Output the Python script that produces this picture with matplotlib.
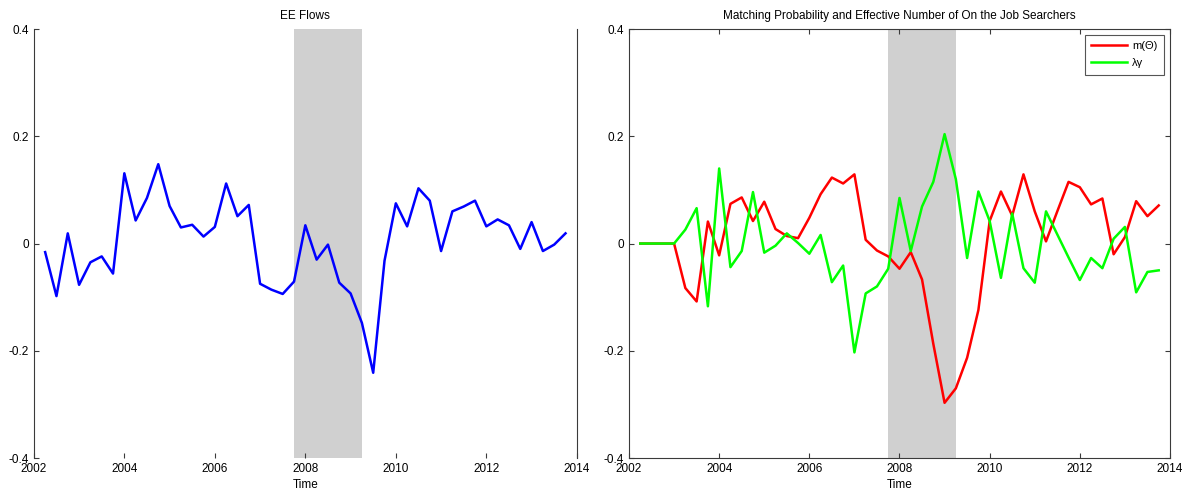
import matplotlib

matplotlib.use("Agg")
import matplotlib.pyplot as plt
import numpy as np

plt.rcParams.update({
    "font.family": ["Liberation Sans", "DejaVu Sans"],
    "font.size": 8.5,
    "xtick.labelsize": 8.5,
    "ytick.labelsize": 8.5,
    "axes.unicode_minus": False,
    "axes.edgecolor": "#3a3a3a",
    "axes.linewidth": 0.8,
    "xtick.direction": "in",
    "ytick.direction": "in",
    "xtick.major.size": 3.5,
    "ytick.major.size": 3.5,
    "xtick.color": "#3a3a3a",
    "ytick.color": "#3a3a3a",
    "xtick.labelcolor": "black",
    "ytick.labelcolor": "black",
})

# quarterly dates, 2002Q2 .. 2013Q4
quarters = 2002.25 + 0.25 * np.arange(47)

# NBER recession band
recession = (2007.75, 2009.25)

ee_flows = [
    -0.016, -0.098, 0.019, -0.077, -0.035, -0.024, -0.056, 0.131, 0.043, 0.085,
    0.148, 0.070, 0.030, 0.035, 0.013, 0.031, 0.112, 0.051, 0.072, -0.075,
    -0.086, -0.094, -0.071, 0.034, -0.030, -0.002, -0.073, -0.093, -0.148, -0.241,
    -0.032, 0.075, 0.032, 0.103, 0.080, -0.014, 0.060, 0.069, 0.080, 0.032,
    0.045, 0.034, -0.010, 0.040, -0.014, -0.002, 0.019,
]

match_prob = [
    0.0, 0.0, 0.0, 0.0, -0.083, -0.108, 0.041, -0.022, 0.074, 0.086,
    0.042, 0.078, 0.027, 0.014, 0.010, 0.048, 0.092, 0.123, 0.112, 0.129,
    0.007, -0.013, -0.024, -0.047, -0.016, -0.067, -0.187, -0.297, -0.270, -0.213,
    -0.124, 0.042, 0.097, 0.052, 0.129, 0.060, 0.004, 0.060, 0.115, 0.105,
    0.073, 0.084, -0.020, 0.012, 0.079, 0.051, 0.071,
]

searchers = [
    0.0, 0.0, 0.0, 0.0, 0.026, 0.066, -0.117, 0.140, -0.044, -0.014,
    0.096, -0.017, -0.004, 0.019, 0.001, -0.019, 0.016, -0.072, -0.041, -0.203,
    -0.093, -0.080, -0.047, 0.085, -0.014, 0.069, 0.115, 0.204, 0.120, -0.027,
    0.097, 0.042, -0.064, 0.056, -0.046, -0.073, 0.060, 0.017, -0.026, -0.068,
    -0.027, -0.046, 0.009, 0.031, -0.091, -0.053, -0.050,
]

xticks = [2002, 2004, 2006, 2008, 2010, 2012, 2014]
yticks = [-0.4, -0.2, 0, 0.2, 0.4]


def fmt_y(v):
    return "0" if v == 0 else f"{v:g}"


def style_axes(ax, title):
    ax.axvspan(*recession, color="#d0d0d0", lw=0, zorder=0)
    ax.set_xlim(2002, 2014)
    ax.set_ylim(-0.4, 0.4)
    ax.set_xticks(xticks)
    ax.set_yticks(yticks)
    ax.set_yticklabels([fmt_y(v) for v in yticks])
    ax.set_xlabel("Time", labelpad=3)
    ax.set_title(title, fontsize=8.5, pad=7)


fig = plt.figure(figsize=(11.83, 4.92), dpi=100)
ax1 = fig.add_axes([0.0286, 0.069, 0.459, 0.872])
ax2 = fig.add_axes([0.5317, 0.069, 0.4573, 0.872])

# left: EE flows
style_axes(ax1, "EE Flows")
ax1.plot(quarters, ee_flows, color="#0000ff", lw=1.8)
ax1.spines["top"].set_visible(False)
ax1.spines["bottom"].set_visible(False)

# right: matching probability and effective searchers
style_axes(ax2, "Matching Probability and Effective Number of On the Job Searchers")
ax2.plot(quarters, match_prob, color="#ff0000", lw=1.8, label="m(\u0398)")
ax2.plot(quarters, searchers, color="#00ff00", lw=1.8, label="\u03bb\u03b3")
ax2.tick_params(right=True, top=True)
leg = ax2.legend(loc="upper right", fontsize=8, fancybox=False, framealpha=1,
                 edgecolor="#555555", borderaxespad=0.5, handlelength=3.2,
                 handletextpad=0.5, borderpad=0.6, labelspacing=0.6)
leg.get_frame().set_linewidth(0.8)

fig.savefig("out.png", dpi=100)
